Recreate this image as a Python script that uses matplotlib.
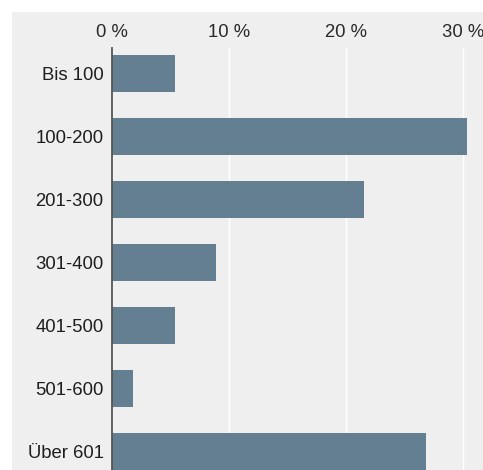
import matplotlib.pyplot as plt
from matplotlib.patches import Rectangle

plt.rcParams['font.family'] = ['Liberation Sans', 'DejaVu Sans']

# Anteil je Größenklasse in Prozent
klassen = ['Bis 100', '100-200', '201-300', '301-400', '401-500', '501-600', 'Über 601']
anteile = [5.4, 30.3, 21.5, 8.9, 5.4, 1.8, 26.8]
ticks = [0, 10, 20, 30]
tick_labels = ['0 %', '10 %', '20 %', '30 %']

bg = '#efefef'
bar_col = '#647f91'

fig = plt.figure(figsize=(4.83, 4.70), dpi=100)
fig.patches.append(Rectangle((12 / 483, 0), 1 - 12 / 483, 1 - 12 / 470,
                             transform=fig.transFigure, facecolor=bg,
                             edgecolor='none', zorder=-10))

ax = fig.add_axes([112 / 483, 0, 1 - 112 / 483, 1 - 48 / 470])
ax.set_facecolor(bg)

y = range(len(klassen))
ax.barh(y, anteile, height=0.59, color=bar_col, zorder=3)

ax.set_xlim(0, 31.7)
ax.set_ylim(6.3, -0.41)
ax.set_yticks(list(y))
ax.set_yticklabels(klassen, fontsize=13.3, color='#1e1e1e')
ax.set_xticks(ticks)
ax.set_xticklabels(tick_labels, fontsize=13.3, color='#2a2a2a')
ax.xaxis.tick_top()
ax.tick_params(axis='both', length=0)
ax.tick_params(axis='x', pad=5)
ax.tick_params(axis='y', pad=6)
ax.grid(axis='x', color='white', linewidth=1.0, zorder=0)

for s in ['top', 'right', 'bottom']:
    ax.spines[s].set_visible(False)
ax.spines['left'].set_color('#555555')
ax.spines['left'].set_linewidth(1.3)
ax.spines['left'].set_zorder(4)

fig.savefig('out.png', dpi=100)
